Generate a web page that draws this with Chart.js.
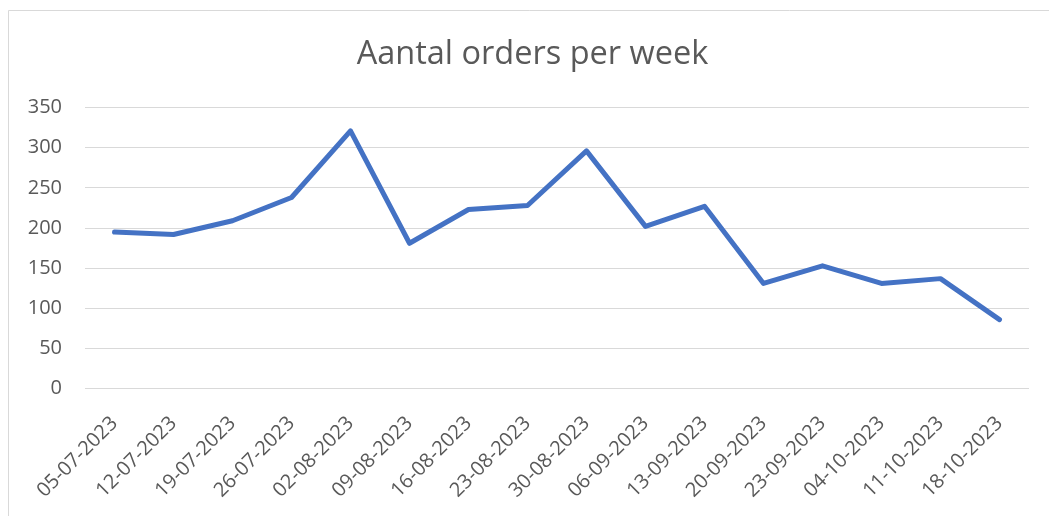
<!DOCTYPE html>
<html>
<head>
<meta charset="utf-8">
<script src="https://cdn.jsdelivr.net/npm/chart.js@4"></script>
<style>
  html, body { margin: 0; padding: 0; background: #fff; overflow: hidden; }
  #wrap { position: relative; width: 1049px; height: 516px; }
</style>
</head>
<body>
<div id="wrap"><canvas id="c" width="1049" height="516"></canvas></div>
<script>
const chartTitle = 'Aantal orders per week';
const weeks = ['05-07-2023','12-07-2023','19-07-2023','26-07-2023','02-08-2023','09-08-2023','16-08-2023','23-08-2023','30-08-2023','06-09-2023','13-09-2023','20-09-2023','23-09-2023','04-10-2023','11-10-2023','18-10-2023'];
const orders = [195, 192, 209, 238, 321, 181, 223, 228, 296, 202, 227, 131, 153, 131, 137, 86];
const yTicks = [0, 50, 100, 150, 200, 250, 300, 350];

const frame = {
  id: 'frame',
  beforeDraw(chart) {
    const ctx = chart.ctx;
    ctx.save();
    ctx.fillStyle = '#ffffff';
    ctx.fillRect(0, 0, chart.width, chart.height);
    ctx.strokeStyle = '#d9d9d9';
    ctx.lineWidth = 1;
    ctx.beginPath();
    ctx.moveTo(8.5, chart.height + 1);
    ctx.lineTo(8.5, 10.5);
    ctx.lineTo(chart.width + 1, 10.5);
    ctx.stroke();
    ctx.restore();
  }
};

const textColor = '#595959';
const fontFamily = '"Open Sans", "Liberation Sans", sans-serif';

new Chart(document.getElementById('c'), {
  type: 'line',
  data: {
    labels: weeks,
    datasets: [{
      label: 'Orders',
      data: orders,
      yAxisID: 'y',
      borderColor: '#4472C4',
      backgroundColor: '#4472C4',
      borderWidth: 5,
      pointRadius: 0,
      pointHoverRadius: 0,
      tension: 0,
      borderJoinStyle: 'round',
      borderCapStyle: 'round',
      fill: false
    }]
  },
  options: {
    responsive: false,
    animation: false,
    events: [],
    layout: { padding: { left: 16, right: 0, top: 0, bottom: 0 } },
    plugins: {
      legend: { display: false },
      tooltip: { enabled: false },
      title: {
        display: true,
        text: chartTitle,
        color: textColor,
        font: { family: fontFamily, size: 32.5, weight: 'normal', lineHeight: 1.2 },
        padding: { top: 35.5, bottom: 33 }
      }
    },
    scales: {
      x: {
        offset: true,
        grid: { display: false },
        border: { display: false },
        ticks: {
          color: textColor,
          font: { family: fontFamily, size: 20 },
          minRotation: 45,
          maxRotation: 45,
          autoSkip: false,
          padding: 15
        },
        afterFit(scale) { scale.height = 127.3; }
      },
      y: {
        position: 'left',
        min: 0,
        max: 350,
        afterBuildTicks(scale) { scale.ticks = yTicks.map(v => ({ value: v })); },
        grid: { color: '#d9d9d9', lineWidth: 1, drawTicks: false },
        border: { display: false },
        ticks: {
          color: textColor,
          font: { family: fontFamily, size: 20 },
          padding: 23
        },
        afterFit(scale) { scale.width = 69; }
      },
      ySpacer: {
        position: 'right',
        display: true,
        grid: { display: false, drawTicks: false },
        border: { display: false },
        ticks: { display: false },
        afterFit(scale) { scale.width = 20; }
      }
    }
  },
  plugins: [frame]
});
</script>
</body>
</html>
